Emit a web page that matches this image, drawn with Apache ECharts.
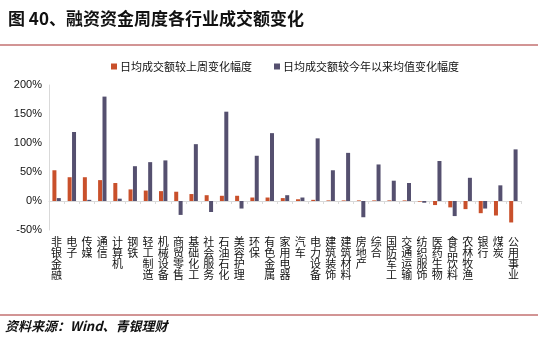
<!DOCTYPE html>
<html>
<head>
<meta charset="utf-8">
<script src="https://cdn.jsdelivr.net/npm/echarts@6/dist/echarts.min.js"></script>
<style>
html,body{margin:0;padding:0;background:#fff;}
#c{width:538px;height:348px;}
</style>
</head>
<body>
<div id="c"></div>
<script>
var categories = ["非银金融","电子","传媒","通信","计算机","钢铁","轻工制造","机械设备","商贸零售","基础化工","社会服务","石油石化","美容护理","环保","有色金属","家用电器","汽车","电力设备","建筑装饰","建筑材料","房地产","综合","国防军工","交通运输","纺织服饰","医药生物","食品饮料","农林牧渔","银行","煤炭","公用事业"];
var weeklyChange = [53,41,41,36,31,20,18,17,16,12,10,9,9,6,6,5,3,2,1,1,1,1,1,1,-1,-7,-11,-14,-21,-25,-37];
var ytdChange = [5,119,2,180,4,60,67,70,-24,98,-19,154,-13,78,117,10,6,108,53,83,-28,63,35,31,-3,69,-26,40,-13,27,89];
var seriesNames = ["日均成交额较上周变化幅度","日均成交额较今年以来均值变化幅度"];
var yTicks = {min:-50, max:200, interval:50};

var chart = echarts.init(document.getElementById('c'), null, {renderer:'canvas'});
var cjk = '"Noto Sans CJK SC", "Microsoft YaHei", sans-serif';
chart.setOption({
  animation:false,
  backgroundColor:'#fff',
  graphic:[
    {type:'text', left:8, top:10, style:{text:'图 40、融资资金周度各行业成交额变化', font:'bold 17px "Noto Sans CJK SC", sans-serif', fill:'#111'}},
    {type:'line', shape:{x1:0,y1:45,x2:538,y2:45}, style:{stroke:'#a52a2a', lineWidth:1}},
    {type:'line', shape:{x1:0,y1:315,x2:538,y2:315}, style:{stroke:'#a52a2a', lineWidth:1}},
    {type:'text', left:5, top:320, style:{text:'资料来源：Wind、青银理财', font:'italic bold 13px "Noto Sans CJK SC", sans-serif', fill:'#111'}}
  ],
  legend:{
    top:56, left:106, itemWidth:6, itemHeight:6, itemGap:22, icon:'rect',
    textStyle:{fontSize:11, color:'#111', fontFamily:cjk, padding:[0,0,0,-2]},
    data:seriesNames
  },
  grid:{left:49, right:17, top:85, bottom:118, containLabel:false},
  xAxis:{
    type:'category', data:categories,
    axisLine:{onZero:true, lineStyle:{color:'#d9d9d9'}},
    axisTick:{show:true, alignWithLabel:false, length:3, lineStyle:{color:'#d9d9d9'}},
    axisLabel:{
      interval:0, fontSize:11, lineHeight:11, color:'#111', fontFamily:cjk,
      margin:6,
      formatter:function(v){return v.split('').join('\n');},
      verticalAlign:'top'
    }
  },
  yAxis:{
    type:'value', min:yTicks.min, max:yTicks.max, interval:yTicks.interval,
    splitLine:{show:false},
    axisLine:{show:true, lineStyle:{color:'#d9d9d9'}},
    axisTick:{show:false},
    axisLabel:{fontSize:11, color:'#111', fontFamily:'"Liberation Sans", Arial, sans-serif', formatter:'{value}%', margin:7}
  },
  series:[
    {name:seriesNames[0], type:'bar', data:weeklyChange, barWidth:4, barGap:'10%', itemStyle:{color:'#c9502b'}},
    {name:seriesNames[1], type:'bar', data:ytdChange, barWidth:4, barGap:'10%', itemStyle:{color:'#55506f'}}
  ]
});
</script>
</body>
</html>
